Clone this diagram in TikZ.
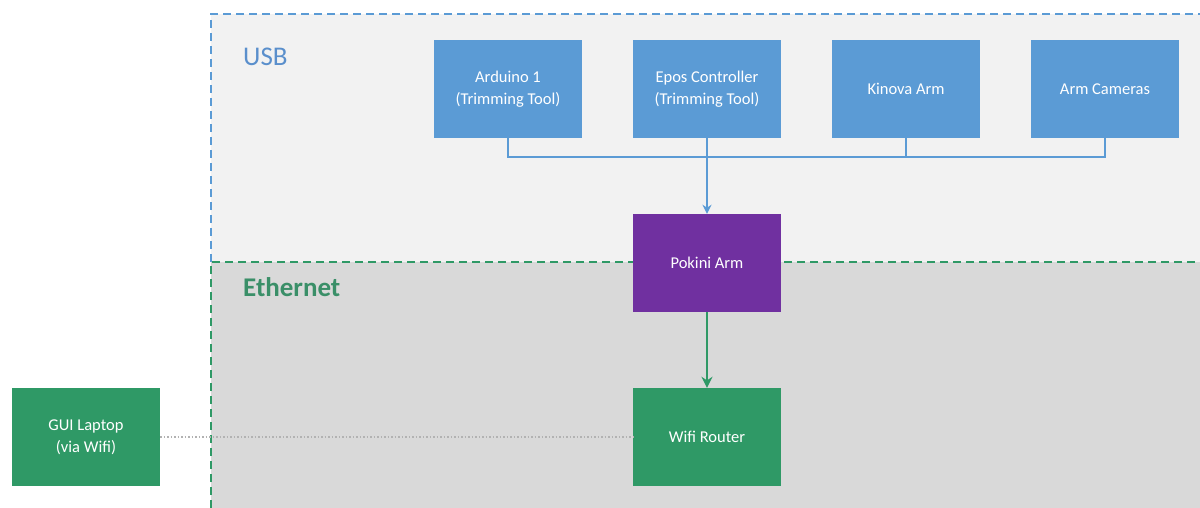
\documentclass[tikz,border=0pt]{standalone}
\usepackage{fontspec}
\setmainfont{Carlito}
\usetikzlibrary{positioning,arrows.meta}
\definecolor{usbbg}{HTML}{F2F2F2}
\definecolor{ethbg}{HTML}{D9D9D9}
\definecolor{usbblue}{HTML}{5B9BD5}
\definecolor{usbtext}{HTML}{5A8FCC}
\definecolor{pokpurple}{HTML}{7030A0}
\definecolor{netgreen}{HTML}{2F9966}
\definecolor{ethtext}{HTML}{3A8F68}
\begin{document}
\begin{tikzpicture}[x=1pt,y=-1pt]
\tikzstyle{box}=[rectangle, minimum width=148pt, minimum height=98pt, inner sep=2pt, text=white, align=center, font=\fontsize{16.5}{22}\selectfont]
\tikzstyle{usbbox}=[box, fill=usbblue]
\tikzstyle{netbox}=[box, fill=netgreen]
\tikzstyle{zoneline}=[line width=2pt, dash pattern=on 8pt off 5pt]
\useasboundingbox (0,0) rectangle (1200,508);
% zones
\fill[usbbg] (211,14) rectangle (1200,262);
\fill[ethbg] (211,262) rectangle (1200,508);
\draw[zoneline, usbblue] (211,262) -- (211,14) -- (1200,14);
\draw[zoneline, netgreen] (211,508) -- (211,262) -- (1200,262);
\node[text=usbtext, anchor=west, inner sep=0pt, font=\fontsize{27}{30}\selectfont] (usb) at (243,57) {USB};
\node[text=ethtext, anchor=west, inner sep=0pt, font=\bfseries\fontsize{27}{30}\selectfont] (eth) at (243,287) {Ethernet};
% devices
\node[usbbox] (ard) at (508,89) {Arduino 1\\(Trimming Tool)};
\node[usbbox] (epos) at (707,89) {Epos Controller\\(Trimming Tool)};
\node[usbbox] (kin) at (906,89) {Kinova Arm};
\node[usbbox] (cam) at (1105,89) {Arm Cameras};
\node[box, fill=pokpurple] (pok) at (707,263) {Pokini Arm};
\node[netbox] (router) at (707,437) {Wifi Router};
\node[netbox] (gui) at (86,437) {GUI Laptop\\(via Wifi)};
\coordinate (bus) at (707,157);
% links
\draw[usbblue, line width=1.5pt] (ard.south) |- (bus) -| (cam.south);
\draw[usbblue, line width=1.5pt] (kin.south) -- (kin.south |- bus);
\draw[usbblue, line width=1.5pt, -{Stealth[length=9pt,width=9pt]}] (epos.south) -- (pok.north);
\draw[netgreen, line width=2.5pt, -{Stealth[length=11pt,width=11pt]}] (pok.south) -- (router.north);
\draw[gray!60, line width=1.5pt, dotted] (gui.east) -- (router.west);
\end{tikzpicture}
\end{document}
